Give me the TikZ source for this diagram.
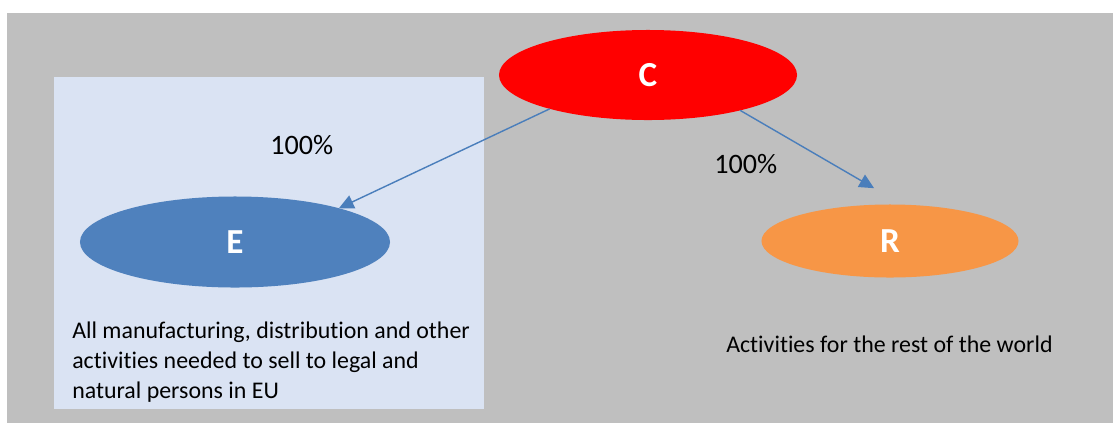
\documentclass[tikz,border=0pt]{standalone}
\usepackage{fontspec}
\setmainfont{Carlito}[Ligatures=NoCommon]
\usetikzlibrary{shapes.geometric, arrows.meta, positioning}
\definecolor{bggray}{RGB}{191,191,191}
\definecolor{paleblue}{RGB}{218,227,243}
\definecolor{eblue}{RGB}{79,129,189}
\definecolor{rorange}{RGB}{247,150,70}
\definecolor{linkblue}{RGB}{74,126,187}

\begin{document}
\begin{tikzpicture}[
  x=0.025cm, y=-0.025cm,
  blob/.style={ellipse, inner sep=0pt, outer sep=0pt, text=white,
               font=\fontsize{25}{30}\selectfont\bfseries},
  arrow/.style={-{Triangle[length=10.5pt, width=10pt]}, line width=1pt, color=linkblue},
  label/.style={anchor=base west, inner sep=0pt, font=\fontsize{20}{21}\selectfont},
  note/.style={anchor=base west, inner sep=0pt, font=\fontsize{17}{21}\selectfont}
]
\useasboundingbox (0,0) rectangle (1113,423);

% --- Background panels ---
\fill[bggray] (7,13) rectangle (1113,423);
\fill[paleblue] (54,77) rectangle (484,409);

% --- Entities ---
\node[blob, fill=red, minimum width=7.45cm, minimum height=2.25cm] (C) at (648,75) {C};
\node[blob, fill=eblue, minimum width=7.75cm, minimum height=2.275cm] (E) at (235,242) {E};
\node[blob, fill=rorange, minimum width=6.425cm, minimum height=1.825cm] (R) at (890,241) {R};

% --- Shares ---
\node[label] (pctE) at (270,154) {100\%};
\node[label] (pctR) at (714,173) {100\%};

% --- Descriptions ---
\node[note, align=left] (eutext) at (72,398) {All manufacturing, distribution and other\\activities needed to sell to legal and\\natural persons in EU};
\node[note] (rowtext) at (726,352) {Activities for the rest of the world};

% --- Arrows ---
\draw[arrow] (C.199) -- (E.18);
\draw[arrow, shorten >=0.82cm] (C.339) -- (R.71);

\end{tikzpicture}
\end{document}
